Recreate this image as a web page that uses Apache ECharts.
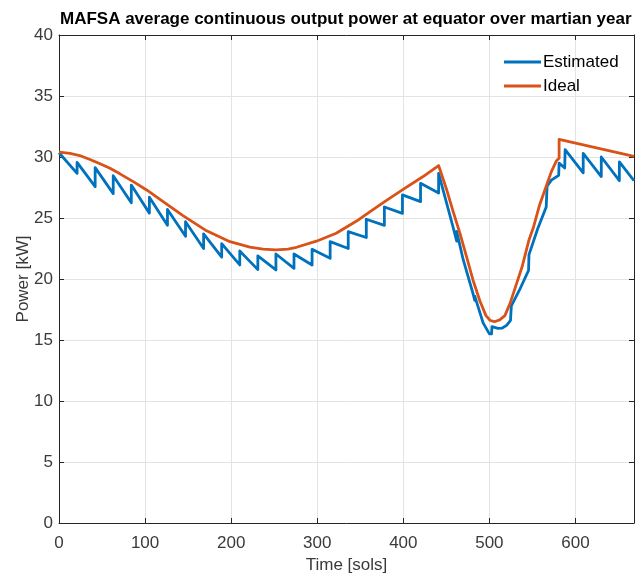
<!DOCTYPE html>
<html>
<head>
<meta charset="utf-8">
<script src="https://cdn.jsdelivr.net/npm/echarts@6/dist/echarts.min.js"></script>
<style>
html,body{margin:0;padding:0;background:#fff;}
#chart{width:635px;height:573px;}
</style>
</head>
<body>
<div id="chart"></div>
<script>
// ---- data ----
const titleText = 'MAFSA average continuous output power at equator over martian year';
const seriesNames = ['Estimated', 'Ideal'];
const xTickLabels = ['0', '100', '200', '300', '400', '500', '600'];
const yTickLabels = ['0', '5', '10', '15', '20', '25', '30', '35', '40'];

// Estimated power (sol, kW) – sawtooth
const estimatedSols = [0,21,21,42,42,63,63,84,84,105,105,126,126,147,147,168,168,189,189,210,210,231,231,252,252,273,273,294,294,315,315,336,336,357,357,378,378,399,399,420,420,441,441,
  450,458,462,462,469.5,481,483,483,487,492.7,500,502.5,503,510,515,520,524.5,525.5,535,545.5,546,556,566,567,572,580.5,581,587.5,588,609,609,630,630,651,651,668];
const estimatedKW = [30.35,28.66,29.56,27.57,29.13,27.0,28.47,26.25,27.7,25.4,26.7,24.4,25.7,23.5,24.7,22.5,23.7,21.8,22.9,21.15,22.3,20.77,21.9,20.74,22.05,20.87,22.05,21.15,22.43,21.7,23.06,22.5,23.88,23.4,24.9,24.4,25.9,25.38,26.9,26.34,27.84,27.05,28.66,
  26.3,24.2,23.1,23.9,21.6,18.8,18.25,18.6,17.7,16.4,15.5,15.5,16.1,15.95,15.98,16.2,16.6,17.8,19.1,20.7,22.0,24.1,25.9,27.6,28.1,28.5,29.5,29.1,30.6,28.7,30.3,28.4,30.0,28.06,29.6,28.06];

// Ideal power (sol, kW)
const idealSols = [0,12.8,24,36,47.6,59.2,70.8,86.3,101.8,121,144,171.5,198.6,221.8,237,252,266,276,299,322,345.7,361,380.5,399.8,423,441,
  450,458,466,474,481,489,496,501,506,512,518,524,531,538,546,551,558,566,572,578,581,581,668];
const idealKW = [30.4,30.3,30.12,29.8,29.45,29.07,28.62,27.98,27.3,26.35,25.2,23.95,23.06,22.62,22.45,22.38,22.45,22.6,23.1,23.75,24.75,25.5,26.45,27.35,28.4,29.3,
  27.4,25.5,23.7,21.7,19.9,18.2,17.0,16.6,16.5,16.65,17.0,18.0,19.5,21.0,23.2,24.2,26.0,27.6,28.8,29.7,29.9,31.45,30.05];

const xMin = 0, xMax = 668, xStep = 100;
const yMin = 0, yMax = 40, yStep = 5;

// ---- chart ----
const FONT = '"Liberation Sans", Arial, sans-serif';
const AX = '#262626';
const LBL = '#3a3a3a';
const FS = 17;

const zip = (a, b) => a.map((v, i) => [v, b[i]]);

const chart = echarts.init(document.getElementById('chart'), null, {renderer: 'canvas'});

const baseX = {
  type: 'value', min: xMin, max: xMax, interval: xStep,
  axisLine: {show: true, onZero: false, lineStyle: {color: AX, width: 1}},
  axisTick: {show: true, inside: true, length: 5, lineStyle: {color: AX}},
};
const baseY = {
  type: 'value', min: yMin, max: yMax, interval: yStep,
  axisLine: {show: true, onZero: false, lineStyle: {color: AX, width: 1}},
  axisTick: {show: true, inside: true, length: 5, lineStyle: {color: AX}},
};

chart.setOption({
  animation: false,
  backgroundColor: '#fff',
  title: {
    text: titleText,
    left: 60, top: 11, padding: 0,
    textStyle: {fontFamily: FONT, fontSize: FS, fontWeight: 'bold', color: '#000'}
  },
  legend: {
    orient: 'vertical', left: 504, top: 53, padding: 0,
    itemWidth: 37, itemHeight: 3, itemGap: 6, icon: 'rect',
    textStyle: {fontFamily: FONT, fontSize: FS, color: '#000', lineHeight: 18, padding: [0,0,0,-3]},
    data: seriesNames
  },
  grid: {left: 59, top: 35, right: 1, bottom: 50, containLabel: false, outerBoundsMode: 'none'},
  xAxis: [
    Object.assign({}, baseX, {
      position: 'bottom',
      name: 'Time [sols]', nameLocation: 'middle', nameGap: 34, nameMoveOverlap: false,
      nameTextStyle: {fontFamily: FONT, fontSize: FS, color: LBL},
      axisLabel: {
        fontFamily: FONT, fontSize: FS, color: LBL, margin: 12, showMaxLabel: false,
        formatter: v => xTickLabels.indexOf(String(v)) >= 0 ? String(v) : ''
      },
      splitLine: {show: true, lineStyle: {color: '#e3e3e3', width: 1}}
    }),
    Object.assign({}, baseX, {
      position: 'top', axisLabel: {show: false}, splitLine: {show: false}
    })
  ],
  yAxis: [
    Object.assign({}, baseY, {
      position: 'left',
      name: 'Power [kW]', nameLocation: 'middle', nameGap: 27, nameMoveOverlap: false,
      nameTextStyle: {fontFamily: FONT, fontSize: FS, color: LBL},
      axisLabel: {
        fontFamily: FONT, fontSize: FS, color: LBL, margin: 6,
        formatter: v => yTickLabels.indexOf(String(v)) >= 0 ? String(v) : ''
      },
      splitLine: {show: true, lineStyle: {color: '#e3e3e3', width: 1}}
    }),
    Object.assign({}, baseY, {
      position: 'right', axisLabel: {show: false}, splitLine: {show: false}
    })
  ],
  series: [
    {
      name: seriesNames[0], type: 'line', xAxisIndex: 0, yAxisIndex: 0,
      data: zip(estimatedSols, estimatedKW),
      showSymbol: false, symbol: 'none', smooth: false,
      lineStyle: {color: '#0072BD', width: 2.8, join: 'round'},
      itemStyle: {color: '#0072BD'}, z: 2
    },
    {
      name: seriesNames[1], type: 'line', xAxisIndex: 0, yAxisIndex: 0,
      data: zip(idealSols, idealKW),
      showSymbol: false, symbol: 'none', smooth: false,
      lineStyle: {color: '#D95319', width: 2.8, join: 'round'},
      itemStyle: {color: '#D95319'}, z: 3
    }
  ]
});
</script>
</body>
</html>
